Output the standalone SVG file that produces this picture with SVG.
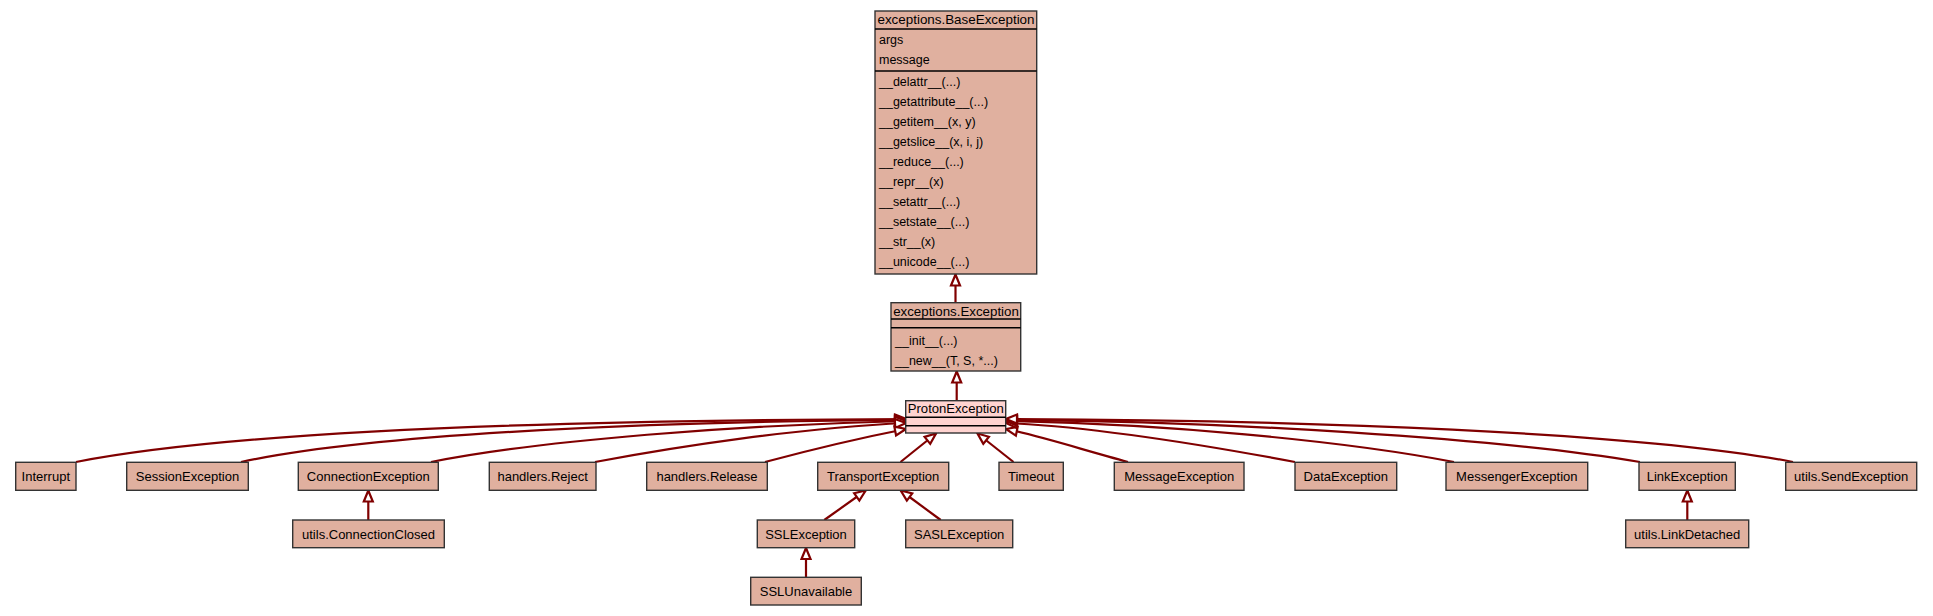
<svg xmlns="http://www.w3.org/2000/svg" width="1933" height="616" viewBox="0 0 1933 616">
<style>
  .n { fill: #e0b09f; stroke: #333333; stroke-width: 1.4; }
  .p { fill: #ffd3d0; stroke: #333333; stroke-width: 1.4; }
  .sep { stroke: #000; stroke-width: 1.4; }
  .t { font-family: "Liberation Sans", Arial, sans-serif; font-size: 13px; fill: #000; text-anchor: middle; }
  .m { font-family: "Liberation Sans", Arial, sans-serif; font-size: 12.5px; fill: #000; }
  .e { fill: none; stroke: #800000; stroke-width: 2.2; marker-end: url(#arr); }
</style>
<defs>
  <marker id="arr" markerUnits="userSpaceOnUse" viewBox="0 0 15 13" markerWidth="15" markerHeight="13" refX="13" refY="6.5" orient="auto">
    <path d="M2,2 L13,6.5 L2,11 Z" fill="#ffffff" stroke="#800000" stroke-width="2.2"/>
  </marker>
</defs>
<rect width="1933" height="616" fill="#ffffff"/>

<g id="connectors">
  <path class="e" d="M955.5,302.7 L955.5,274.5"/>
  <path class="e" d="M956.7,400.7 L956.7,371.5"/>
  <path class="e" d="M76,462 C250,428 600,420 906,419"/>
  <path class="e" d="M241,462 C380,432 680,421 906,420"/>
  <path class="e" d="M431,462 C540,440 740,425 906,421"/>
  <path class="e" d="M595,462 C680,446 800,428 906,423"/>
  <path class="e" d="M765,462 C810,450 860,438 906,429"/>
  <path class="e" d="M900.5,462 L936,433.5"/>
  <path class="e" d="M1013.5,462 L977.5,433.5"/>
  <path class="e" d="M1128,462 C1080,449 1040,436 1006,429"/>
  <path class="e" d="M1295,462 C1210,446 1100,427 1006,423"/>
  <path class="e" d="M1454,462 C1340,440 1160,424 1006,421"/>
  <path class="e" d="M1640,462 C1500,438 1220,421 1006,420"/>
  <path class="e" d="M1793,462 C1640,432 1300,420 1006,419"/>
  <path class="e" d="M368.3,520 L368.3,490.5"/>
  <path class="e" d="M824.3,520 L865.7,490.5"/>
  <path class="e" d="M940.7,520 L900.7,490.5"/>
  <path class="e" d="M806,577.3 L806,548"/>
  <path class="e" d="M1687.3,520 L1687.3,490.5"/>
</g>

<g id="BaseException">
  <rect class="n" x="875" y="11" width="161.7" height="263"/>
  <line class="sep" x1="875" y1="29" x2="1036.7" y2="29"/>
  <line class="sep" x1="875" y1="71" x2="1036.7" y2="71"/>
  <text class="t" x="956" y="24" style="font-size:13.4px">exceptions.BaseException</text>
  <text class="m" x="879" y="44">args</text>
  <text class="m" x="879" y="64">message</text>
  <text class="m" x="879" y="86">__delattr__(...)</text>
  <text class="m" x="879" y="106">__getattribute__(...)</text>
  <text class="m" x="879" y="126">__getitem__(x, y)</text>
  <text class="m" x="879" y="146">__getslice__(x, i, j)</text>
  <text class="m" x="879" y="166">__reduce__(...)</text>
  <text class="m" x="879" y="186">__repr__(x)</text>
  <text class="m" x="879" y="206">__setattr__(...)</text>
  <text class="m" x="879" y="226">__setstate__(...)</text>
  <text class="m" x="879" y="246">__str__(x)</text>
  <text class="m" x="879" y="266">__unicode__(...)</text>
</g>

<g id="Exception">
  <rect class="n" x="891" y="302.7" width="129.7" height="68.3"/>
  <line class="sep" x1="891" y1="319" x2="1020.7" y2="319"/>
  <line class="sep" x1="891" y1="327.7" x2="1020.7" y2="327.7"/>
  <text class="t" x="956" y="316" style="font-size:13.3px">exceptions.Exception</text>
  <text class="m" x="895" y="345">__init__(...)</text>
  <text class="m" x="895" y="365">__new__(T, S, *...)</text>
</g>

<g id="ProtonException">
  <rect class="p" x="905.7" y="400.7" width="100" height="32.3"/>
  <line class="sep" x1="905.7" y1="417.3" x2="1005.7" y2="417.3"/>
  <line class="sep" x1="905.7" y1="425.7" x2="1005.7" y2="425.7"/>
  <text class="t" x="955.8" y="413" style="font-size:13.1px">ProtonException</text>
</g>

<g id="Interrupt"><rect class="n" x="15.7" y="462.3" width="60.3" height="28"/><text class="t" x="45.8" y="481">Interrupt</text></g>
<g id="SessionException"><rect class="n" x="126.7" y="462.3" width="121.6" height="28"/><text class="t" x="187.5" y="481">SessionException</text></g>
<g id="ConnectionException"><rect class="n" x="298.3" y="462.3" width="140" height="28"/><text class="t" x="368.3" y="481">ConnectionException</text></g>
<g id="handlersReject"><rect class="n" x="489.3" y="462.3" width="106.7" height="28"/><text class="t" x="542.6" y="481">handlers.Reject</text></g>
<g id="handlersRelease"><rect class="n" x="646.7" y="462.3" width="120.6" height="28"/><text class="t" x="707" y="481">handlers.Release</text></g>
<g id="TransportException"><rect class="n" x="817.7" y="462.3" width="131" height="28"/><text class="t" x="883.2" y="481">TransportException</text></g>
<g id="Timeout"><rect class="n" x="999" y="462.3" width="64.3" height="28"/><text class="t" x="1031.2" y="481">Timeout</text></g>
<g id="MessageException"><rect class="n" x="1114.3" y="462.3" width="129.7" height="28"/><text class="t" x="1179.2" y="481">MessageException</text></g>
<g id="DataException"><rect class="n" x="1295" y="462.3" width="101.7" height="28"/><text class="t" x="1345.8" y="481">DataException</text></g>
<g id="MessengerException"><rect class="n" x="1446" y="462.3" width="141.7" height="28"/><text class="t" x="1516.8" y="481">MessengerException</text></g>
<g id="LinkException"><rect class="n" x="1639" y="462.3" width="96.3" height="28"/><text class="t" x="1687.2" y="481">LinkException</text></g>
<g id="utilsSendException"><rect class="n" x="1785.7" y="462.3" width="131" height="28"/><text class="t" x="1851.2" y="481">utils.SendException</text></g>

<g id="utilsConnectionClosed"><rect class="n" x="292.7" y="520" width="151.6" height="27.7"/><text class="t" x="368.5" y="538.5">utils.ConnectionClosed</text></g>
<g id="SSLException"><rect class="n" x="757.3" y="520" width="97.4" height="27.7"/><text class="t" x="806" y="538.5">SSLException</text></g>
<g id="SASLException"><rect class="n" x="905.7" y="520" width="107" height="27.7"/><text class="t" x="959.2" y="538.5">SASLException</text></g>
<g id="utilsLinkDetached"><rect class="n" x="1625.7" y="520" width="123" height="27.7"/><text class="t" x="1687.2" y="538.5">utils.LinkDetached</text></g>

<g id="SSLUnavailable"><rect class="n" x="750.7" y="577.3" width="110.6" height="27.7"/><text class="t" x="806" y="595.5">SSLUnavailable</text></g>
</svg>
